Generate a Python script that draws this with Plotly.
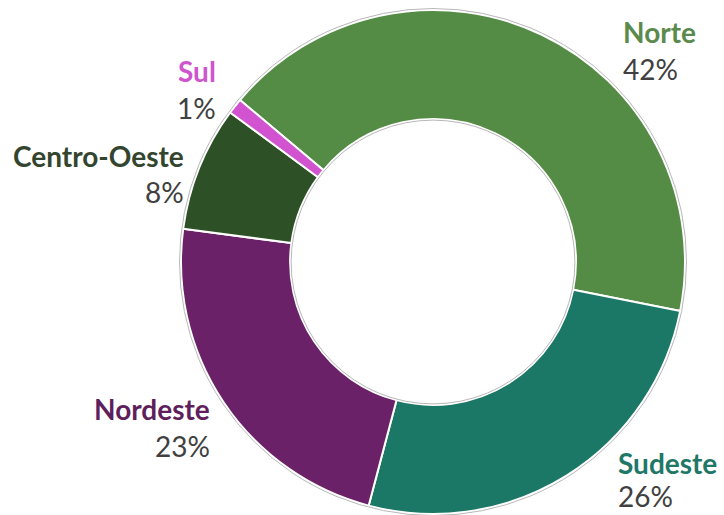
import plotly.graph_objects as go

regions = ["Norte", "Sudeste", "Nordeste", "Centro-Oeste", "Sul"]
shares = [42, 26, 23, 8, 1]
slice_colors = ["#548c45", "#1b7766", "#6a2168", "#2d5026", "#d153d0"]
label_colors = ["#5a8a4c", "#1f7767", "#5e1f5c", "#34452f", "#cf55cf"]

W, H = 724, 515
# label anchor positions in pixels: (x, anchor, name_y, pct_y)
label_pos = {
    "Norte": (622, "left", 32, 69),
    "Sudeste": (617, "left", 463, 496),
    "Nordeste": (211, "right", 409, 446),
    "Centro-Oeste": (185, "right", 156, 192),
    "Sul": (217, "right", 71, 108),
}

cx, cy, R = 433, 262, 252
hole = 0.567

fig = go.Figure(go.Pie(
    labels=regions,
    values=shares,
    sort=False,
    direction="clockwise",
    rotation=-50,
    hole=hole,
    marker=dict(colors=slice_colors, line=dict(color="white", width=2)),
    textinfo="none",
    hoverinfo="label+percent",
    showlegend=False,
    domain=dict(x=[(cx - R) / W, (cx + R) / W], y=[(H - cy - R) / H, (H - cy + R) / H]),
))

total = sum(shares)
ann = []
for name, v, col in zip(regions, shares, label_colors):
    x, anc, ny, py = label_pos[name]
    ann.append(dict(x=x / W, y=1 - ny / H, xref="paper", yref="paper", xanchor=anc, yanchor="middle",
                    text=f"<b>{name}</b>", showarrow=False, borderpad=0,
                    font=dict(family="Lato", size=28, color=col)))
    ann.append(dict(x=x / W, y=1 - py / H, xref="paper", yref="paper", xanchor=anc, yanchor="middle",
                    text=f"{round(v / total * 100)}%", showarrow=False, borderpad=0,
                    font=dict(family="Lato", size=28, color="#404040")))

shapes = []
for r in (R + 1.5, R * hole - 1):
    shapes.append(dict(type="circle", xref="paper", yref="paper",
                       x0=(cx - r) / W, x1=(cx + r) / W, y0=1 - (cy + r) / H, y1=1 - (cy - r) / H,
                       line=dict(color="#b8b8b8", width=1), layer="above"))

fig.update_layout(
    width=W, height=H,
    margin=dict(l=0, r=0, t=0, b=0),
    paper_bgcolor="white", plot_bgcolor="white",
    annotations=ann, shapes=shapes,
)
fig.write_html("out.html", config={"displayModeBar": False},
               post_script="document.body.style.margin='0';")
